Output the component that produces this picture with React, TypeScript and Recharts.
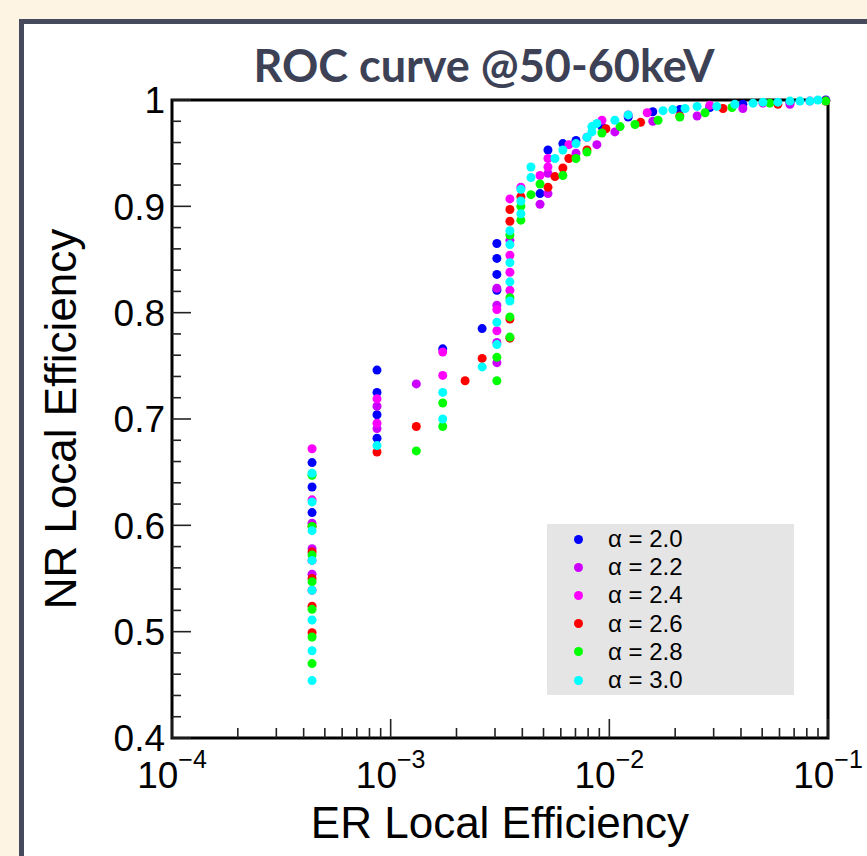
import React from 'react'
import { ScatterChart, Scatter, XAxis, YAxis, ReferenceArea, Legend, Label } from 'recharts'

// ER local efficiency (x) vs NR local efficiency (y), one list per alpha
const alpha20: [number, number][] = [
  [4.37e-4, 0.659], [4.37e-4, 0.636], [4.37e-4, 0.612],
  [8.66e-4, 0.746], [8.66e-4, 0.725], [8.66e-4, 0.704], [8.66e-4, 0.682],
  [1.73e-3, 0.766], [2.62e-3, 0.785],
  [3.06e-3, 0.865], [3.06e-3, 0.851], [3.06e-3, 0.836], [3.06e-3, 0.821],
  [4.82e-3, 0.912], [5.24e-3, 0.953], [6.13e-3, 0.959], [7.04e-3, 0.962],
  [9.25e-3, 0.975], [1.22e-2, 0.984], [1.58e-2, 0.989], [2.1e-2, 0.991],
  [2.88e-2, 0.993], [4.08e-2, 0.996], [6.7e-2, 0.998], [9.77e-2, 1.0],
]
const alpha22: [number, number][] = [
  [4.37e-4, 0.602], [4.37e-4, 0.578], [4.37e-4, 0.554],
  [8.66e-4, 0.712], [8.66e-4, 0.691], [1.31e-3, 0.733],
  [3.06e-3, 0.823], [3.06e-3, 0.807], [3.06e-3, 0.772], [3.06e-3, 0.753],
  [3.51e-3, 0.868], [4.82e-3, 0.902], [5.24e-3, 0.931], [5.24e-3, 0.912],
  [7.04e-3, 0.95], [8.77e-3, 0.958], [1.06e-2, 0.97], [1.58e-2, 0.98],
  [2.52e-2, 0.985], [4.08e-2, 0.992], [6.7e-2, 0.996], [9.77e-2, 0.999],
]
const alpha24: [number, number][] = [
  [4.37e-4, 0.672], [4.37e-4, 0.624], [4.37e-4, 0.567], [4.37e-4, 0.539],
  [8.66e-4, 0.719], [8.66e-4, 0.696], [1.73e-3, 0.763], [1.73e-3, 0.741],
  [3.06e-3, 0.803], [3.06e-3, 0.783],
  [3.51e-3, 0.907], [3.51e-3, 0.854], [3.51e-3, 0.838], [3.51e-3, 0.821],
  [3.94e-3, 0.918], [4.82e-3, 0.929], [5.24e-3, 0.945], [5.24e-3, 0.937],
  [6.53e-3, 0.958], [7.9e-3, 0.965], [9.25e-3, 0.981], [1.22e-2, 0.986],
  [1.49e-2, 0.988], [2.88e-2, 0.995], [5.04e-2, 0.997], [8.26e-2, 0.999],
]
const alpha26: [number, number][] = [
  [4.37e-4, 0.599], [4.37e-4, 0.575], [4.37e-4, 0.55], [4.37e-4, 0.524], [4.37e-4, 0.499],
  [8.66e-4, 0.669], [1.31e-3, 0.693], [2.19e-3, 0.736], [2.62e-3, 0.757],
  [3.51e-3, 0.897], [3.51e-3, 0.886], [3.51e-3, 0.794], [3.51e-3, 0.776],
  [3.94e-3, 0.909], [5.24e-3, 0.918], [5.64e-3, 0.928], [6.13e-3, 0.936],
  [6.53e-3, 0.945], [7.9e-3, 0.953], [9.65e-3, 0.973], [1.39e-2, 0.979],
  [2.1e-2, 0.985], [3.31e-2, 0.992], [5.9e-2, 0.996], [9.77e-2, 0.999],
]
const alpha28: [number, number][] = [
  [4.37e-4, 0.647], [4.37e-4, 0.599], [4.37e-4, 0.572], [4.37e-4, 0.547],
  [4.37e-4, 0.521], [4.37e-4, 0.495], [4.37e-4, 0.47],
  [1.31e-3, 0.67], [1.73e-3, 0.715], [1.73e-3, 0.693],
  [3.06e-3, 0.758], [3.06e-3, 0.736],
  [3.51e-3, 0.873], [3.51e-3, 0.814], [3.51e-3, 0.796], [3.51e-3, 0.777],
  [3.94e-3, 0.9], [3.94e-3, 0.887], [4.38e-3, 0.911], [4.82e-3, 0.921],
  [6.13e-3, 0.929], [7.04e-3, 0.945], [7.9e-3, 0.951], [9.25e-3, 0.969],
  [1.12e-2, 0.975], [1.31e-2, 0.977], [1.67e-2, 0.981], [2.1e-2, 0.984],
  [2.74e-2, 0.988], [3.64e-2, 0.993], [5.42e-2, 0.997], [9.77e-2, 0.999],
]
const alpha30: [number, number][] = [
  [4.37e-4, 0.649], [4.37e-4, 0.622], [4.37e-4, 0.595], [4.37e-4, 0.567],
  [4.37e-4, 0.539], [4.37e-4, 0.511], [4.37e-4, 0.482], [4.37e-4, 0.454],
  [8.66e-4, 0.675], [1.73e-3, 0.725], [1.73e-3, 0.7], [2.62e-3, 0.749],
  [3.06e-3, 0.791], [3.06e-3, 0.77],
  [3.51e-3, 0.877], [3.51e-3, 0.864], [3.51e-3, 0.847], [3.51e-3, 0.829], [3.51e-3, 0.811],
  [3.94e-3, 0.916], [3.94e-3, 0.905], [3.94e-3, 0.893], [4.38e-3, 0.937], [4.38e-3, 0.927],
  [5.64e-3, 0.945], [6.13e-3, 0.953], [7.04e-3, 0.959], [7.9e-3, 0.965],
  [8.32e-3, 0.975], [8.32e-3, 0.97], [8.77e-3, 0.978], [1.06e-2, 0.981],
  [1.22e-2, 0.986], [1.76e-2, 0.99], [1.95e-2, 0.991], [2.22e-2, 0.992],
  [2.52e-2, 0.994], [3.1e-2, 0.994], [3.75e-2, 0.996], [4.54e-2, 0.997],
  [5.04e-2, 0.998], [5.9e-2, 0.998], [6.7e-2, 0.999], [7.44e-2, 0.999],
  [8.26e-2, 0.999], [8.99e-2, 1.0],
]

const seriesNames = ['α = 2.0', 'α = 2.2', 'α = 2.4', 'α = 2.6', 'α = 2.8', 'α = 3.0']
const seriesColors = ['#0000ff', '#cc00ff', '#ff00ff', '#ff0000', '#00ff00', '#00ffff']
const seriesPoints = [alpha20, alpha22, alpha24, alpha26, alpha28, alpha30]

const xMajorTicks = [1e-4, 1e-3, 1e-2, 1e-1]
const xExponents = ['−4', '−3', '−2', '−1']
const xMinorTicks = [
  2e-4, 3e-4, 4e-4, 5e-4, 6e-4, 7e-4, 8e-4, 9e-4,
  2e-3, 3e-3, 4e-3, 5e-3, 6e-3, 7e-3, 8e-3, 9e-3,
  2e-2, 3e-2, 4e-2, 5e-2, 6e-2, 7e-2, 8e-2, 9e-2,
]
const yMajorTicks = [0.4, 0.5, 0.6, 0.7, 0.8, 0.9, 1]
const yMinorTicks = [
  0.42, 0.44, 0.46, 0.48, 0.52, 0.54, 0.56, 0.58, 0.62, 0.64, 0.66, 0.68,
  0.72, 0.74, 0.76, 0.78, 0.82, 0.84, 0.86, 0.88, 0.92, 0.94, 0.96, 0.98,
]

const series = seriesNames.map((name, i) => ({
  name,
  color: seriesColors[i],
  data: seriesPoints[i].map(([x, y]) => ({ x, y })),
}))

const FONT = "'Liberation Sans', Arial, Helvetica, sans-serif"

const Dot = (props: any) => <circle cx={props.cx} cy={props.cy} r={4.5} fill={props.fill} />

function YTick({ x, y, payload }: any) {
  const major = yMajorTicks.includes(payload.value)
  return (
    <g>
      <line x1={x} x2={x + (major ? 19 : 9)} y1={y} y2={y} stroke="#222" strokeWidth={1.6} />
      {major && (
        <text x={x - 7} y={y} dy="0.36em" textAnchor="end" fontSize={37} fontFamily={FONT} fill="#000">
          {String(payload.value)}
        </text>
      )}
    </g>
  )
}

function XTick({ x, y, payload }: any) {
  const i = xMajorTicks.indexOf(payload.value)
  return (
    <g>
      <line x1={x} x2={x} y1={y} y2={y - (i >= 0 ? 19 : 10)} stroke="#222" strokeWidth={1.6} />
      {i >= 0 && (
        <text x={x} y={y + 50} textAnchor="middle" fontSize={37} fontFamily={FONT} fill="#000">
          <tspan>10</tspan>
          <tspan dy={-20} fontSize={25}>{xExponents[i]}</tspan>
        </text>
      )}
    </g>
  )
}

function AlphaLegend() {
  return (
    <div style={{ background: '#e5e5e5', width: 247, height: 171, paddingTop: 1, boxSizing: 'border-box' }}>
      {series.map((s) => (
        <div key={s.name} style={{ height: 28.2, display: 'flex', alignItems: 'center' }}>
          <span style={{ width: 9, height: 9, borderRadius: '50%', background: s.color, marginLeft: 27 }} />
          <span style={{ marginLeft: 25, fontSize: 24, fontFamily: FONT, color: '#000', lineHeight: 1 }}>{s.name}</span>
        </div>
      ))}
    </div>
  )
}

export default function App() {
  return (
    <div style={{ position: 'absolute', left: 0, top: 0, width: 867, height: 856, overflow: 'hidden', background: '#fef4e3' }}>
      <div style={{ position: 'absolute', left: 19, top: 19, width: 900, height: 900, border: '5px solid #464a5c', background: '#fff' }} />
      <div
        style={{
          position: 'absolute', left: 234, top: 38, width: 500, textAlign: 'center',
          fontFamily: 'Lato, sans-serif', fontWeight: 700, fontSize: 45, lineHeight: '54px', color: '#3d4156',
        }}
      >
        ROC curve @50-60keV
      </div>
      <div style={{ position: 'absolute', left: 0, top: 0 }}>
        <ScatterChart width={867} height={856} margin={{ top: 100, right: 39, bottom: 58, left: 112 }}>
          <XAxis
            dataKey="x" type="number" scale="log" domain={[1e-4, 1e-1]}
            ticks={[...xMajorTicks, ...xMinorTicks]} interval={0}
            tick={<XTick />} tickLine={false} axisLine={false} tickSize={0} tickMargin={0} height={60}
          >
            <Label
              content={({ viewBox }: any) => (
                <text x={viewBox.x + viewBox.width / 2} y={viewBox.y + 100} textAnchor="middle" fontSize={44} fontFamily={FONT} fill="#000">
                  ER Local Efficiency
                </text>
              )}
            />
          </XAxis>
          <YAxis
            dataKey="y" type="number" domain={[0.4, 1]}
            ticks={[...yMajorTicks, ...yMinorTicks]} interval={0}
            tick={<YTick />} tickLine={false} axisLine={false} tickSize={0} tickMargin={0} width={60}
          >
            <Label
              content={({ viewBox }: any) => {
                const cy = viewBox.y + viewBox.height / 2
                return (
                  <text x={76} y={cy} transform={`rotate(-90, 76, ${cy})`} textAnchor="middle" fontSize={44} fontFamily={FONT} fill="#000">
                    NR Local Efficiency
                  </text>
                )
              }}
            />
          </YAxis>
          {series.map((s) => (
            <Scatter key={s.name} name={s.name} data={s.data} fill={s.color} shape={Dot} isAnimationActive={false} />
          ))}
          <ReferenceArea x1={1e-4} x2={1e-1} y1={0.4} y2={1} fill="none" stroke="#000" strokeWidth={3} ifOverflow="visible" />
          <Legend
            layout="vertical" align="center" verticalAlign="middle"
            content={<AlphaLegend />}
            wrapperStyle={{ left: 547, top: 524, width: 247, height: 171 }}
          />
        </ScatterChart>
      </div>
    </div>
  )
}
